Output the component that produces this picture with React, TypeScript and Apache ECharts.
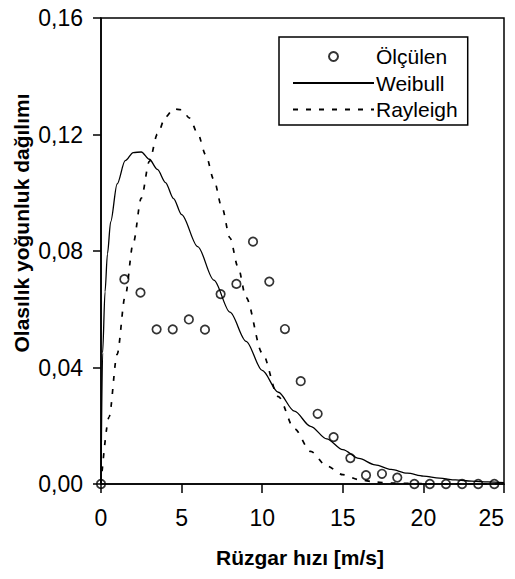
import React, { useEffect, useRef } from "react";
import * as echarts from "echarts";

// Measured data (Ölçülen)
const measuredSpeed = [0, 1.45, 2.45, 3.45, 4.45, 5.45, 6.45, 7.42, 8.4, 9.43, 10.44, 11.41, 12.39, 13.44, 14.43, 15.47, 16.44, 17.43, 18.38, 19.44, 20.4, 21.4, 22.4, 23.4, 24.4];
const measuredDensity = [0, 0.0703, 0.0657, 0.0531, 0.0531, 0.0565, 0.053, 0.0652, 0.0687, 0.0832, 0.0695, 0.0532, 0.0353, 0.0241, 0.0161, 0.0089, 0.003, 0.0035, 0.0022, 0, 0, 0, 0, 0, 0];

// Weibull curve
const weibullSpeed = [0, 0.1, 0.25, 0.4, 0.6, 1, 1.5, 2, 2.5, 3, 3.5, 4, 4.5, 5, 6, 7, 8, 9, 10, 11, 12, 13, 14, 15, 16, 17, 18, 19, 20, 21, 22, 23, 24, 25];
const weibullDensity = [0, 0.045, 0.066, 0.079, 0.09, 0.103, 0.111, 0.1138, 0.114, 0.1115, 0.108, 0.1035, 0.098, 0.0925, 0.0815, 0.07, 0.059, 0.049, 0.039, 0.0315, 0.025, 0.0198, 0.0155, 0.0118, 0.0088, 0.0066, 0.005, 0.0037, 0.0027, 0.002, 0.0014, 0.001, 0.0007, 0.0005];

// Rayleigh curve
const rayleighSpeed = [0, 0.5, 1, 1.5, 2, 2.5, 3, 3.5, 4, 4.5, 5, 5.5, 6, 6.5, 7, 7.5, 8, 8.5, 9, 10, 11, 12, 13, 14, 15, 16, 17, 18, 20, 22, 25];
const rayleighDensity = [0, 0.023, 0.0445, 0.0645, 0.0827, 0.0982, 0.1108, 0.1201, 0.126, 0.1288, 0.1285, 0.1256, 0.1203, 0.113, 0.1045, 0.095, 0.0845, 0.0745, 0.064, 0.045, 0.03, 0.019, 0.0112, 0.0062, 0.0032, 0.0015, 0.0007, 0.0003, 0.0001, 0, 0];

const seriesNames = ["Ölçülen", "Weibull", "Rayleigh"];
const xTitle = "Rüzgar hızı [m/s]";
const yTitle = "Olasılık yoğunluk dağılımı";

const FONT = "'Liberation Sans', Arial, sans-serif";

const zip = (xs: number[], ys: number[]) => xs.map((x, i) => [x, ys[i]]);

export default function App() {
  const ref = useRef<HTMLDivElement>(null);
  useEffect(() => {
    document.body.style.margin = "0";
    const chart = echarts.init(ref.current!, null, { renderer: "svg" });
    chart.setOption({
      animation: false,
      backgroundColor: "#fff",
      grid: {
        left: 101,
        top: 18,
        width: 403,
        height: 466,
        show: true,
        borderColor: "#000",
        borderWidth: 1.5,
        backgroundColor: "transparent",
      },
      legend: {
        orient: "vertical",
        left: 279,
        top: 37,
        padding: [9, 10, 5, 13],
        borderColor: "#000",
        borderWidth: 1.5,
        backgroundColor: "#fff",
        itemWidth: 81,
        itemHeight: 9,
        itemGap: 5.5,
        data: [
          { name: seriesNames[0] },
          { name: seriesNames[1], itemStyle: { opacity: 0 } },
          { name: seriesNames[2], itemStyle: { opacity: 0 } },
        ],
        textStyle: {
          fontFamily: FONT,
          fontSize: 21,
          lineHeight: 21,
          color: "#000",
          padding: [0, 0, 0, -3],
        },
      },
      xAxis: {
        type: "value",
        min: 0,
        max: 25,
        interval: 5,
        axisLine: { lineStyle: { color: "#000", width: 1.5 } },
        axisTick: { inside: false, length: 9, lineStyle: { color: "#000", width: 1.5 } },
        splitLine: { show: false },
        axisLabel: {
          color: "#000",
          fontFamily: FONT,
          fontSize: 23,
          margin: 22,
          alignMaxLabel: "right",
        },
      },
      yAxis: {
        type: "value",
        min: 0,
        max: 0.16,
        interval: 0.04,
        axisLine: { show: true, lineStyle: { color: "#000", width: 1.5 } },
        axisTick: { show: true, inside: false, length: 8, lineStyle: { color: "#000", width: 1.5 } },
        splitLine: { show: false },
        axisLabel: {
          color: "#000",
          fontFamily: FONT,
          fontSize: 23,
          margin: 18,
          formatter: (v: number) => v.toFixed(2).replace(".", ","),
        },
      },
      graphic: [
        {
          type: "text",
          x: 300,
          y: 557,
          style: {
            text: xTitle,
            font: `bold 21px ${FONT}`,
            fill: "#000",
            align: "center",
            verticalAlign: "middle",
          },
        },
        {
          type: "text",
          x: 21,
          y: 223,
          rotation: Math.PI / 2,
          style: {
            text: yTitle,
            font: `bold 21px ${FONT}`,
            fill: "#000",
            align: "center",
            verticalAlign: "middle",
          },
        },
      ],
      series: [
        {
          name: seriesNames[1],
          type: "line",
          data: zip(weibullSpeed, weibullDensity),
          symbol: "none",
          smooth: 0.3,
          smoothMonotone: "x",
          lineStyle: { color: "#000", width: 1.3, type: "solid" },
          itemStyle: { color: "#000" },
          z: 2,
        },
        {
          name: seriesNames[2],
          type: "line",
          data: zip(rayleighSpeed, rayleighDensity),
          symbol: "none",
          smooth: 0.3,
          smoothMonotone: "x",
          lineStyle: { color: "#000", width: 1.7, type: [5, 8] },
          itemStyle: { color: "#000" },
          z: 2,
        },
        {
          name: seriesNames[0],
          type: "scatter",
          data: zip(measuredSpeed, measuredDensity),
          symbol: "circle",
          symbolSize: 8.5,
          itemStyle: { color: "rgba(255,255,255,0)", borderColor: "#000", borderWidth: 1.7 },
          z: 3,
        },
      ],
    });
    return () => chart.dispose();
  }, []);
  return (
    <div
      ref={ref}
      style={{ position: "fixed", left: 0, top: 0, width: 515, height: 579 }}
    />
  );
}
